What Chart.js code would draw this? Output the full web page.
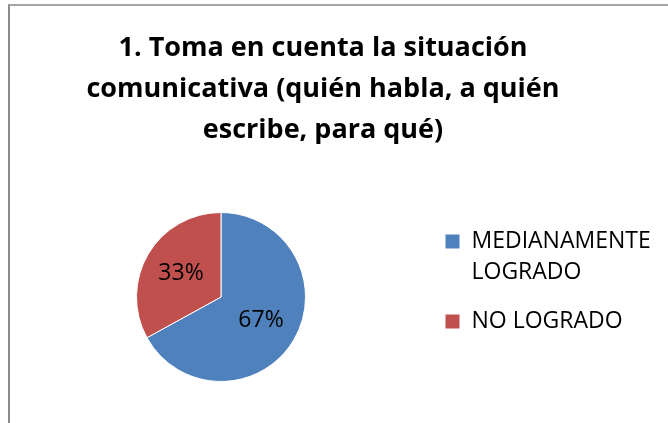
<!DOCTYPE html>
<html>
<head>
<meta charset="utf-8">
<script src="https://cdn.jsdelivr.net/npm/chart.js@4/dist/chart.umd.min.js"></script>
<style>
  html, body { margin: 0; padding: 0; background: #fff; }
  #wrap { position: relative; width: 668px; height: 423px; overflow: hidden; }
  #marco { position: absolute; left: 8px; top: 4px; width: 700px; height: 500px;
           border-left: 2px solid #8a8a8a; border-top: 2px solid #a6a6a6; }
  #grafico { position: absolute; left: 0; top: 0; }
</style>
</head>
<body>
<div id="wrap">
  <div id="marco"></div>
  <canvas id="grafico" width="668" height="423"></canvas>
</div>
<script>
// Datos del gráfico
const categorias = [['MEDIANAMENTE', 'LOGRADO'], 'NO LOGRADO'];
const valores = [67, 33];
const colores = ['#4F81BD', '#C0504D'];
const titulo = ['1. Toma en cuenta la situación', 'comunicativa (quién habla, a quién', 'escribe, para qué)'];

const fuente = "'Open Sans', Lato, sans-serif";

// Plugin para escribir el porcentaje dentro de cada porción
const etiquetasPorcentaje = {
    id: 'etiquetasPorcentaje',
    afterDatasetsDraw(chart) {
        const ctx = chart.ctx;
        const meta = chart.getDatasetMeta(0);
        const total = valores.reduce((a, b) => a + b, 0);
        ctx.save();
        ctx.font = '23px ' + fuente;
        ctx.fillStyle = '#000';
        ctx.textAlign = 'center';
        ctx.textBaseline = 'middle';
        meta.data.forEach((arco, i) => {
            const p = arco.getProps(['x', 'y', 'startAngle', 'endAngle', 'outerRadius'], true);
            const medio = (p.startAngle + p.endAngle) / 2;
            const r = p.outerRadius * 0.55;
            const texto = Math.round(valores[i] / total * 100) + '%';
            ctx.fillText(texto, p.x + Math.cos(medio) * r, p.y + Math.sin(medio) * r);
        });
        ctx.restore();
    }
};

// La leyenda recorta su texto; la dejamos llegar hasta el borde derecho
const ampliarLeyenda = {
    id: 'ampliarLeyenda',
    afterLayout(chart) {
        const leyenda = chart.legend;
        if (leyenda) {
            leyenda.right = chart.width;
            leyenda.width = leyenda.right - leyenda.left;
        }
    }
};

const ctx = document.getElementById('grafico').getContext('2d');

new Chart(ctx, {
    type: 'pie',
    data: {
        labels: categorias,
        datasets: [{
            data: valores,
            backgroundColor: colores,
            borderColor: '#ffffff',
            borderWidth: 1,
        }],
    },
    options: {
        responsive: false,
        animation: false,
        layout: {
            padding: { left: 15, right: 37, top: 0, bottom: 41 },
        },
        plugins: {
            title: {
                display: true,
                text: titulo,
                color: '#000',
                font: { family: fuente, size: 27, weight: 'bold', lineHeight: '41px' },
                padding: { top: 27.5, bottom: 61.5 },
            },
            legend: {
                position: 'right',
                align: 'start',
                fullSize: false,
                maxWidth: 204,
                labels: {
                    boxWidth: 15,
                    boxHeight: 15,
                    padding: 18,
                    color: '#000',
                    font: { family: fuente, size: 23, lineHeight: '31px' },
                },
            },
            tooltip: { enabled: false },
        },
    },
    plugins: [etiquetasPorcentaje, ampliarLeyenda],
});
</script>
</body>
</html>
